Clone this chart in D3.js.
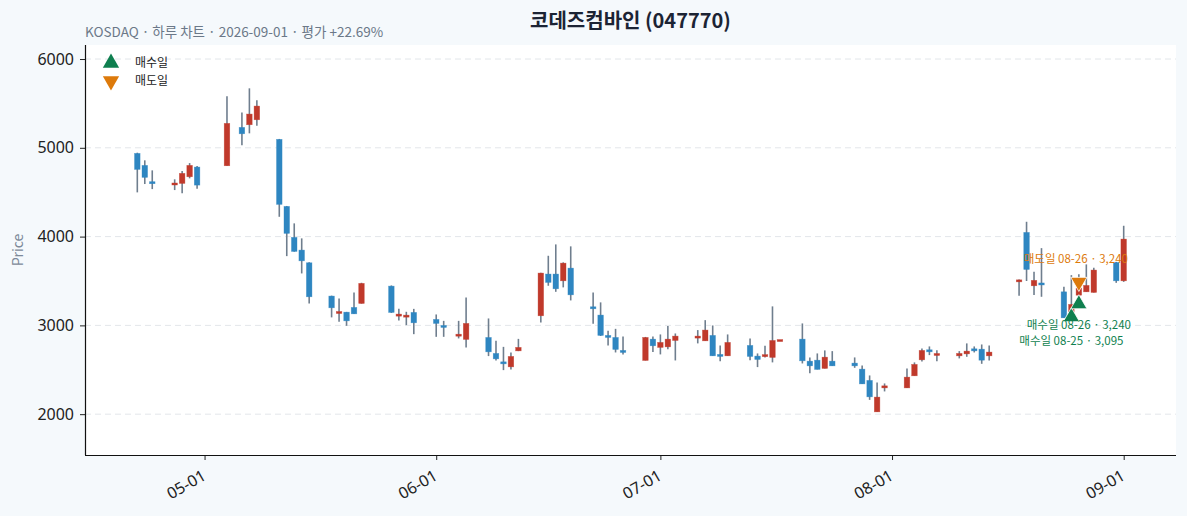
<!DOCTYPE html>
<html><head><meta charset="utf-8">
<script src="https://cdn.jsdelivr.net/npm/d3@7/dist/d3.min.js"></script>
<style>
html,body{margin:0;padding:0;background:#f5f9fc;}
svg{display:block;font-family:"Noto Sans CJK KR","Noto Sans",sans-serif;}
</style></head>
<body>
<svg id="chart" width="1187" height="516"></svg>
<script>
const dates = ["2026-04-22","2026-04-23","2026-04-24","2026-04-27","2026-04-28","2026-04-29","2026-04-30",
"2026-05-04","2026-05-06","2026-05-07","2026-05-08","2026-05-11","2026-05-12","2026-05-13","2026-05-14","2026-05-15",
"2026-05-18","2026-05-19","2026-05-20","2026-05-21","2026-05-22","2026-05-26","2026-05-27","2026-05-28","2026-05-29",
"2026-06-01","2026-06-02","2026-06-04","2026-06-05","2026-06-08","2026-06-09","2026-06-10","2026-06-11","2026-06-12",
"2026-06-15","2026-06-16","2026-06-17","2026-06-18","2026-06-19","2026-06-22","2026-06-23","2026-06-24","2026-06-25","2026-06-26",
"2026-06-29","2026-06-30","2026-07-01","2026-07-02","2026-07-03","2026-07-06","2026-07-07","2026-07-08","2026-07-09","2026-07-10",
"2026-07-13","2026-07-14","2026-07-15","2026-07-16","2026-07-17","2026-07-20","2026-07-21","2026-07-22","2026-07-23","2026-07-24",
"2026-07-27","2026-07-28","2026-07-29","2026-07-30","2026-07-31","2026-08-03","2026-08-04","2026-08-05","2026-08-06","2026-08-07",
"2026-08-10","2026-08-11","2026-08-12","2026-08-13","2026-08-14","2026-08-18","2026-08-19","2026-08-20","2026-08-21",
"2026-08-24","2026-08-25","2026-08-26","2026-08-27","2026-08-28","2026-08-31","2026-09-01"];
const opens = [4937,4802,4612,4588,4599,4674,4783,
4798,5230,5260,5316,5095,4340,3991,3848,3705,
3330,3140,3149,3202,3247,3442,3104,3100,3146,
3067,2999,2886,2842,2864,2684,2582,2533,2713,
3108,3578,3578,3502,3645,3202,3116,2887,2864,2718,
2605,2845,2752,2758,2830,2860,2826,2887,2665,2657,
2774,2654,2655,2639,2826,2845,2597,2608,2515,2597,
2575,2507,2380,2026,2296,2296,2432,2612,2725,2668,
2657,2679,2736,2732,2657,3498,4047,3446,3476,
3378,3153,3340,3378,3371,3709,3502];
const highs = [4945,4859,4746,4645,4738,4828,4794,
5580,5399,5670,5535,5100,4345,4149,3980,3710,
3335,3304,3152,3371,3480,3450,3186,3153,3186,
3123,3051,3051,3315,3078,2826,2758,2695,2848,
3592,3784,3912,3710,3890,3371,3259,2939,2961,2876,
2870,2876,2898,2992,2909,2947,3059,2999,2774,2898,
2853,2684,2770,3214,2832,3022,2639,2684,2718,2710,
2639,2549,2436,2357,2346,2515,2583,2740,2763,2721,
2710,2797,2763,2785,2774,3517,4167,3603,3870,
3434,3566,3575,3687,3650,3715,4122];
const lows = [4498,4592,4535,4524,4487,4656,4539,
4798,5028,5163,5248,4223,3780,3830,3585,3247,
3090,3040,2995,3128,3245,3140,3056,3003,2901,
2871,2871,2853,2752,2654,2605,2496,2504,2710,
3033,3446,3378,3428,3281,3018,2880,2774,2695,2673,
2605,2699,2673,2732,2605,2797,2826,2657,2597,2657,
2608,2530,2639,2583,2826,2571,2462,2504,2515,2544,
2522,2341,2161,2026,2256,2296,2432,2594,2665,2597,
2628,2646,2695,2567,2605,3333,3500,3341,3322,
3085,3095,3240,3378,3371,3479,3490];
const closes = [4757,4667,4602,4597,4712,4802,4580,
5275,5158,5380,5470,4363,4036,3833,3727,3322,
3198,3150,3051,3130,3473,3146,3127,3108,3029,
3022,2977,2893,3022,2702,2623,2574,2650,2752,
3589,3484,3412,3701,3344,3194,2887,2864,2729,2695,
2864,2770,2808,2845,2879,2876,2947,2657,2658,2808,
2650,2616,2663,2830,2832,2601,2544,2504,2642,2544,
2544,2341,2195,2192,2319,2417,2560,2718,2702,2676,
2684,2710,2713,2608,2699,3505,3630,3507,3457,
3085,3236,3420,3450,3623,3502,3972];

const yTicks = [2000,3000,4000,5000,6000];
const xTickDates = ["2026-05-01","2026-06-01","2026-07-01","2026-08-01","2026-09-01"];
const tradeTypes = ["buy","buy","sell"];
const tradeDates = ["2026-08-25","2026-08-26","2026-08-26"];
const tradePrices = [3095,3240,3240];
const tradeLabels = ["매수일 08-25 · 3,095","매수일 08-26 · 3,240","매도일 08-26 · 3,240"];
const legendLabels = ["매수일","매도일"];
const titleText = "코데즈컴바인 (047770)";
const subtitleText = "KOSDAQ · 하루 차트 · 2026-09-01 · 평가 +22.69%";

const W = 1187, H = 516;
const m = {l:85, r:11, t:45, b:61};
const svg = d3.select("#chart");
const parse = d3.utcParse("%Y-%m-%d");
const data = dates.map((d,i)=>({date:parse(d),o:opens[i],h:highs[i],l:lows[i],c:closes[i]}));

const x = d3.scaleUtc().domain([parse("2026-04-15"), parse("2026-09-08")]).range([m.l, W-m.r]);
const y = d3.scaleLinear().domain([1540, 6158]).range([H-m.b, m.t]);

svg.append("rect").attr("x",m.l).attr("y",m.t).attr("width",W-m.l-m.r).attr("height",H-m.t-m.b).attr("fill","#ffffff");

svg.append("g").selectAll("line").data(yTicks).join("line")
  .attr("x1",m.l).attr("x2",W-m.r).attr("y1",d=>y(d)).attr("y2",d=>y(d))
  .attr("stroke","#e3e6ea").attr("stroke-width",1).attr("stroke-dasharray","6,4");

const tickFont = "'Noto Sans','Noto Sans CJK KR',sans-serif";
const yAxis = svg.append("g").attr("transform",`translate(${m.l},0)`)
  .call(d3.axisLeft(y).tickValues(yTicks).tickFormat(d3.format("d")).tickSize(5).tickSizeOuter(0));
yAxis.select(".domain").remove();
yAxis.selectAll("text").attr("font-size",16).attr("fill","#222").attr("dx","-3").style("font-family",tickFont);
yAxis.selectAll("line").attr("stroke","#222");

const xAxis = svg.append("g").attr("transform",`translate(0,${H-m.b})`)
  .call(d3.axisBottom(x).tickValues(xTickDates.map(parse)).tickFormat(d3.utcFormat("%m-%d")).tickSize(5).tickSizeOuter(0));
xAxis.select(".domain").remove();
xAxis.selectAll("line").attr("stroke","#222");
xAxis.selectAll("text").attr("font-size",16).attr("fill","#222").style("font-family",tickFont)
  .attr("text-anchor","end").attr("dy","0").attr("dx","0")
  .attr("transform","translate(-2,17) rotate(-30)");

svg.append("line").attr("x1",m.l+0.5).attr("x2",m.l+0.5).attr("y1",m.t).attr("y2",H-m.b).attr("stroke","#111").attr("stroke-width",1.2);
svg.append("line").attr("x1",m.l).attr("x2",W-m.r).attr("y1",H-m.b+0.5).attr("y2",H-m.b+0.5).attr("stroke","#111").attr("stroke-width",1.2);

const dayPx = x(parse("2026-05-02")) - x(parse("2026-05-01"));
const bw = dayPx * 0.74;
const up = "#c0392b", down = "#2e86c1";
const cg = svg.append("g");
cg.selectAll("line.wick").data(data).join("line").attr("class","wick")
  .attr("x1",d=>x(d.date)).attr("x2",d=>x(d.date))
  .attr("y1",d=>y(d.h)).attr("y2",d=>y(d.l))
  .attr("stroke","#6f7e8e").attr("stroke-width",1.6);
cg.selectAll("rect.body").data(data).join("rect").attr("class","body")
  .attr("x",d=>x(d.date)-bw/2).attr("width",bw)
  .attr("y",d=>Math.min(y(d.o),y(d.c)) - (Math.abs(y(d.o)-y(d.c))<2 ? (2-Math.abs(y(d.o)-y(d.c)))/2 : 0))
  .attr("height",d=>Math.max(2,Math.abs(y(d.o)-y(d.c))))
  .attr("fill",d=>d.c>=d.o?up:down)
  .attr("stroke",d=>d.c>=d.o?up:down).attr("stroke-opacity",0.6).attr("stroke-width",0.6);

const green = "#0f7f4f", orange = "#dd7a0b";
const trades = tradeDates.map((d,i)=>({date:parse(d),p:tradePrices[i],t:tradeTypes[i],label:tradeLabels[i]}));
const tri = d3.symbol().type(d3.symbolTriangle).size(115);
const tg = svg.append("g");
trades.forEach(t=>{
  const px = x(t.date);
  const py = t.t==="buy" ? y(t.p) : y(t.p)-22;
  tg.append("path").attr("d",tri()).attr("fill",t.t==="buy"?green:orange)
    .attr("stroke","#fff").attr("stroke-width",0.8)
    .attr("transform",`translate(${px},${py})${t.t==="sell"?" rotate(180)":""}`);
});
// buy labels below markers, stacked so they don't collide
const buys = trades.filter(t=>t.t==="buy").sort((a,b)=>b.p-a.p);
let lastY = -Infinity;
buys.forEach(t=>{
  let ly = y(t.p)+25;
  if (ly < lastY + 16) ly = lastY + 16;
  lastY = ly;
  tg.append("text").attr("x",x(t.date)).attr("y",ly).attr("text-anchor","middle")
    .attr("font-size",11.5).attr("fill",green).text(t.label);
});
trades.filter(t=>t.t==="sell").forEach(t=>{
  tg.append("text").attr("x",x(t.date)-3).attr("y",y(t.p)-22-19).attr("text-anchor","middle")
    .attr("font-size",11.5).attr("fill",orange).text(t.label);
});

const lg = svg.append("g");
legendLabels.forEach((lab,i)=>{
  const ly = 63 + i*18;
  lg.append("path").attr("d",tri()).attr("fill",i===0?green:orange)
    .attr("transform",`translate(111,${ly})${i===1?" rotate(180)":""}`);
  lg.append("text").attr("x",135).attr("y",ly+4).attr("font-size",12).attr("fill","#222").text(lab);
});

svg.append("text").attr("x",(m.l+W-m.r)/2).attr("y",28).attr("text-anchor","middle")
  .attr("font-size",20).attr("font-weight","bold").attr("fill","#1c2434").text(titleText);
svg.append("text").attr("x",m.l).attr("y",37).attr("font-size",13.5).attr("fill","#6b7888").text(subtitleText);
svg.append("text").attr("transform",`translate(23,${(m.t+H-m.b)/2}) rotate(-90)`).attr("text-anchor","middle")
  .attr("font-size",14).attr("fill","#7d8a99").text("Price");
</script>
</body></html>
